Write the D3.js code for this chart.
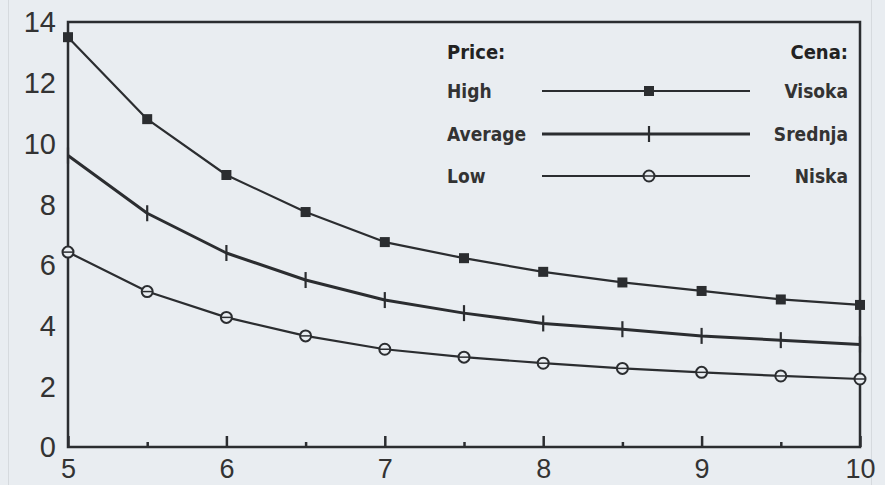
<!DOCTYPE html>
<html><head><meta charset="utf-8">
<script src="https://cdn.jsdelivr.net/npm/d3@7"></script>
<style>
html,body{margin:0;padding:0;background:#e9edf1;}
svg{display:block;}
</style></head>
<body>
<svg id="c" width="885" height="485"></svg>
<script>
const xValues = [5, 5.5, 6, 6.5, 7, 7.5, 8, 8.5, 9, 9.5, 10];
const highValues = [13.5, 10.8, 8.96, 7.74, 6.75, 6.22, 5.77, 5.42, 5.14, 4.86, 4.68];
const averageValues = [9.6, 7.7, 6.39, 5.5, 4.84, 4.41, 4.07, 3.88, 3.66, 3.52, 3.38];
const lowValues = [6.42, 5.12, 4.27, 3.66, 3.22, 2.96, 2.76, 2.59, 2.46, 2.34, 2.24];
const xTickLabels = [5, 6, 7, 8, 9, 10];
const yTickLabels = [0, 2, 4, 6, 8, 10, 12, 14];
const legendLeft = ["High", "Average", "Low"];
const legendRight = ["Visoka", "Srednja", "Niska"];

const svg = d3.select("#c");
const L = 68, R = 860, T = 22, B = 447;
const x = d3.scaleLinear().domain([5, 10]).range([L, R]);
const y = d3.scaleLinear().domain([0, 14]).range([B, T]);
const ink = "#2b2d30";

// faint panel edges
svg.append("line").attr("x1",8.5).attr("x2",8.5).attr("y1",0).attr("y2",485).attr("stroke","#d6dade").attr("stroke-width",1);
svg.append("line").attr("x1",871.5).attr("x2",871.5).attr("y1",0).attr("y2",485).attr("stroke","#d6dade").attr("stroke-width",1);

// frame
svg.append("rect").attr("x",L).attr("y",T).attr("width",R-L).attr("height",B-T)
  .attr("fill","none").attr("stroke",ink).attr("stroke-width",2.5);

// x axis ticks (inside, upward)
const xAxis = d3.axisTop(x).tickValues(xValues).tickSize(0).tickFormat("");
const gx = svg.append("g").attr("transform",`translate(0,${B})`).call(xAxis);
gx.select(".domain").remove();
gx.selectAll(".tick").append("line")
  .attr("y1",0).attr("y2",d => Number.isInteger(d) ? -11 : -5)
  .attr("stroke",ink).attr("stroke-width",2.5);

// x labels
const gxl = svg.append("g").attr("transform",`translate(0,${B})`)
  .call(d3.axisBottom(x).tickValues(xTickLabels).tickSize(0).tickPadding(0).tickFormat(d3.format("d")));
gxl.select(".domain").remove();
gxl.selectAll("text").attr("y",31).attr("dy",0)
  .attr("font-family","'Liberation Sans', Arial, sans-serif").attr("font-size",27).attr("fill","#333");

// y labels
const gyl = svg.append("g").attr("transform",`translate(${L},0)`)
  .call(d3.axisLeft(y).tickValues(yTickLabels).tickSize(0).tickPadding(12).tickFormat(d3.format("d")));
gyl.select(".domain").remove();
gyl.selectAll("text").attr("dy","0.34em")
  .attr("font-family","'Liberation Sans', Arial, sans-serif").attr("font-size",29).attr("fill","#333");

const series = [
  {name:"high", values: highValues, width: 2.2, marker:"square"},
  {name:"average", values: averageValues, width: 3, marker:"plus"},
  {name:"low", values: lowValues, width: 2.2, marker:"circle"}
];
const line = d3.line().x((d,i)=>x(xValues[i])).y(d=>y(d));

function drawMarker(g, type, cx, cy){
  if(type==="square"){
    g.append("rect").attr("x",cx-5).attr("y",cy-5).attr("width",10).attr("height",10).attr("fill",ink);
  } else if(type==="plus"){
    g.append("line").attr("x1",cx).attr("x2",cx).attr("y1",cy-8).attr("y2",cy+8).attr("stroke",ink).attr("stroke-width",2.2);
  } else {
    g.append("circle").attr("cx",cx).attr("cy",cy).attr("r",5.5).attr("fill","#e9edf1").attr("stroke",ink).attr("stroke-width",2);
    g.append("line").attr("x1",cx-5).attr("x2",cx+5).attr("y1",cy).attr("y2",cy).attr("stroke",ink).attr("stroke-width",1.5);
  }
}

series.forEach(s => {
  svg.append("path").datum(s.values).attr("d",line).attr("fill","none")
    .attr("stroke",ink).attr("stroke-width",s.width).attr("stroke-linejoin","round");
  const g = svg.append("g");
  s.values.forEach((v,i) => drawMarker(g, s.marker, x(xValues[i]), y(v)));
});

// legend
const lf = "'DejaVu Sans Condensed','Liberation Sans Narrow',sans-serif";
const lg = svg.append("g");
lg.append("text").attr("x",447).attr("y",59).text("Price:").attr("font-family",lf).attr("font-weight","bold").attr("font-size",20).attr("fill","#222");
lg.append("text").attr("x",848).attr("y",59).attr("text-anchor","end").text("Cena:").attr("font-family",lf).attr("font-weight","bold").attr("font-size",20).attr("fill","#222");
const rowsY = [91, 134, 176];
series.forEach((s,i) => {
  const ry = rowsY[i];
  lg.append("text").attr("x",447).attr("y",ry+7).text(legendLeft[i]).attr("font-family",lf).attr("font-weight","bold").attr("font-size",19).attr("fill","#333");
  lg.append("text").attr("x",848).attr("y",ry+7).attr("text-anchor","end").text(legendRight[i]).attr("font-family",lf).attr("font-weight","bold").attr("font-size",19).attr("fill","#333");
  lg.append("line").attr("x1",542).attr("x2",750).attr("y1",ry).attr("y2",ry).attr("stroke",ink).attr("stroke-width",s.width);
  drawMarker(lg, s.marker, 649, ry);
});
</script>
</body></html>
